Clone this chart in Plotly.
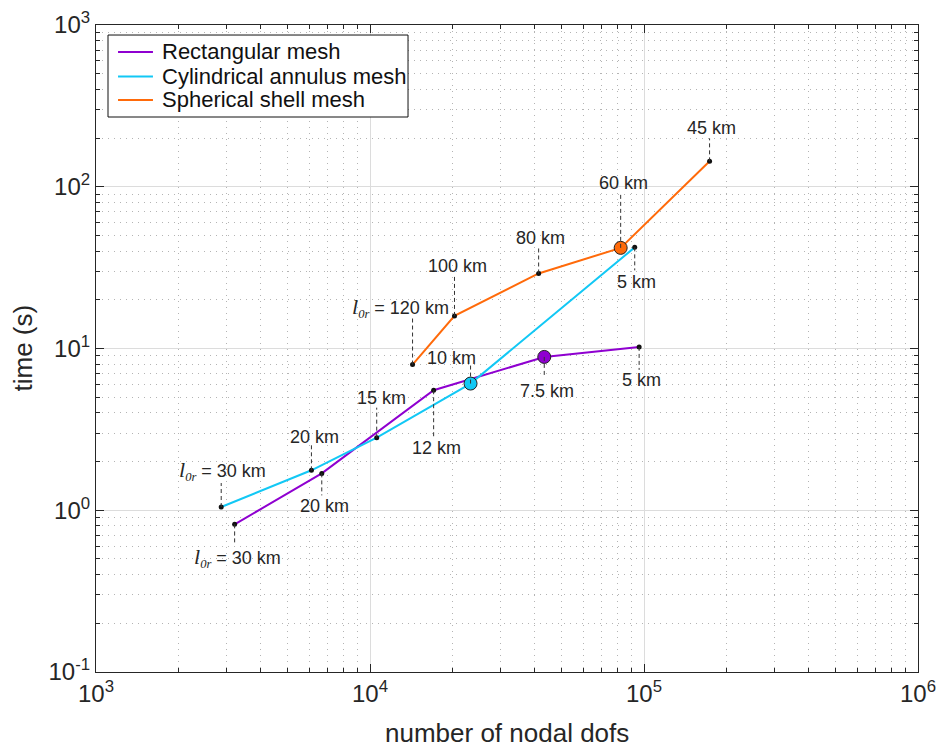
import numpy as np
import plotly.graph_objects as go

# ---- data: mesh size sweeps (number of nodal dofs vs. run time) ----
rect_dofs = [3206, 6668, 17070, 43250, 96000]
rect_time = [0.818, 1.69, 5.52, 8.87, 10.23]
rect_lbl = ["= 30 km", "20 km", "12 km", "7.5 km", "5 km"]

cyl_dofs = [2864, 6113, 10580, 23280, 92500]
cyl_time = [1.047, 1.766, 2.81, 6.07, 42.2]
cyl_lbl = ["= 30 km", "20 km", "15 km", "10 km", "5 km"]

sph_dofs = [14300, 20340, 41250, 82200, 173500]
sph_time = [7.96, 15.9, 29.1, 41.9, 143.6]
sph_lbl = ["= 120 km", "100 km", "80 km", "60 km", "45 km"]

series_names = ["Rectangular mesh", "Cylindrical annulus mesh", "Spherical shell mesh"]

# index of the highlighted run in each series
rect_hi, cyl_hi, sph_hi = 3, 3, 3

x_ticks = [1e3, 1e4, 1e5, 1e6]
x_ticktext = ["10<sup>3</sup>", "10<sup>4</sup>", "10<sup>5</sup>", "10<sup>6</sup>"]
y_ticks = [1e-1, 1e0, 1e1, 1e2, 1e3]
y_ticktext = ["10<sup>-1</sup>", "10<sup>0</sup>", "10<sup>1</sup>", "10<sup>2</sup>", "10<sup>3</sup>"]

# ---- label placement (pixel offsets): leader length, text offset, x shift ----
rect_place = [(-21, -33, 3), (-22, -33, 3), (-48, -58, 3), (-21, -34, 3), (-23, -33, 2)]
cyl_place = [(24, 37, 1), (25, 33, 3), (30, 40, 5), (18, 26, -19), (-23, -35, 2)]
sph_place = [(47, 57, -12), (41, 50, 3), (25, 35, 2), (53, 65, 3), (23, 33, 2)]

C_RECT = "#8F00D0"
C_CYL = "#12C8F5"
C_SPH = "#FF6A0A"
FONT = "Liberation Sans, Arial, sans-serif"
INK = "#262626"

W, H = 938, 748
M_L, M_R, M_T, M_B = 96, 20, 25, 76
PLOT_W = W - M_L - M_R
PLOT_H = H - M_T - M_B
Y_DECADES = 4
PX_PER_DECADE_Y = PLOT_H / Y_DECADES

# symbol for the radial reference length, written as italic l with subscript 0r
L0R = ("<span style='font-family:Liberation Serif'><i><span style='font-size:22px'>l</span>"
       "<sub>0r</sub></i></span> ")

fig = go.Figure()

series = [
    (series_names[0], rect_dofs, rect_time, rect_lbl, rect_hi, rect_place, C_RECT),
    (series_names[1], cyl_dofs, cyl_time, cyl_lbl, cyl_hi, cyl_place, C_CYL),
    (series_names[2], sph_dofs, sph_time, sph_lbl, sph_hi, sph_place, C_SPH),
]

shapes = []
annotations = []
for name, xs, ys, lbls, hi, place, col in series:
    for i, (xv, yv, txt, (ln, off, dx)) in enumerate(zip(xs, ys, lbls, place)):
        # dashed leader from the point towards its label (length given in pixels)
        shapes.append(dict(
            type="line", xref="x", yref="y", layer="above",
            x0=xv, x1=xv, y0=yv, y1=yv * 10 ** (ln / PX_PER_DECADE_Y),
            line=dict(color="#333333", width=1, dash="4px,3px"),
        ))
        annotations.append(dict(
            x=np.log10(xv), y=np.log10(yv), xref="x", yref="y",
            text=(L0R + txt) if i == 0 else txt,
            showarrow=False, xshift=dx, yshift=off,
            font=dict(family=FONT, size=18, color=INK),
            xanchor="center", yanchor="middle",
        ))

for name, xs, ys, lbls, hi, place, col in series:
    fig.add_trace(go.Scatter(
        x=xs, y=ys, mode="lines", name=name, showlegend=False,
        line=dict(color=col, width=2),
    ))

for name, xs, ys, lbls, hi, place, col in series:
    sx = [v for i, v in enumerate(xs) if i != hi]
    sy = [v for i, v in enumerate(ys) if i != hi]
    fig.add_trace(go.Scatter(
        x=sx, y=sy, mode="markers", showlegend=False,
        marker=dict(color="#111111", size=5),
    ))
    fig.add_trace(go.Scatter(
        x=[xs[hi]], y=[ys[hi]], mode="markers", showlegend=False,
        marker=dict(color=col, size=13, line=dict(color="#222222", width=1)),
    ))

# legend box in the upper-left corner of the axes (paper coordinates)
leg_box = dict(x0=0.0146, x1=0.3796, y0=0.8578, y1=0.9845)
leg_rows = [0.9583, 0.9204, 0.8841]
shapes.append(dict(type="rect", xref="paper", yref="paper", layer="above",
                   fillcolor="white", line=dict(color="#111111", width=1), **leg_box))
for (name, xs, ys, lbls, hi, place, col), yr in zip(series, leg_rows):
    shapes.append(dict(type="line", xref="paper", yref="paper", layer="above",
                       x0=0.0268, x1=0.0693, y0=yr, y1=yr,
                       line=dict(color=col, width=2)))
    annotations.append(dict(x=0.0779, y=yr, xref="paper", yref="paper",
                            text=name, showarrow=False, xanchor="left", yanchor="middle",
                            font=dict(family=FONT, size=22, color="#111111")))

# axis titles
annotations.append(dict(x=0.5, y=-(733 - (H - M_B)) / PLOT_H, xref="paper", yref="paper",
                        text="number of nodal dofs", showarrow=False,
                        xanchor="center", yanchor="middle",
                        font=dict(family=FONT, size=26, color=INK)))
annotations.append(dict(x=-(M_L - 22) / PLOT_W, y=0.5, xref="paper", yref="paper",
                        text="time (s)", showarrow=False, textangle=-90,
                        xanchor="center", yanchor="middle",
                        font=dict(family=FONT, size=26, color=INK)))

minor_x = [m * 10 ** e for e in range(3, 6) for m in range(2, 10)]
minor_y = [m * 10 ** e for e in range(-1, 3) for m in range(2, 10)]

axis_common = dict(
    type="log", showline=True, linecolor=INK, linewidth=1.2, mirror="ticks",
    ticks="inside", ticklen=8, tickwidth=1.2, tickcolor=INK,
    showgrid=True, gridcolor="#dcdcdc", gridwidth=1, zeroline=False,
    tickfont=dict(family=FONT, size=24, color=INK), ticklabeloverflow="allow",
    automargin=False,
)
minor_common = dict(tickmode="array", ticks="inside", ticklen=4, tickcolor=INK,
                    showgrid=True, gridcolor="#b4b4b4", griddash="1px,5px", gridwidth=1)

fig.update_xaxes(
    **axis_common, range=[3, 6], tickmode="array", tickvals=x_ticks, ticktext=x_ticktext,
    minor=dict(tickvals=minor_x, **minor_common),
)
fig.update_yaxes(
    **axis_common, range=[-1, 3], tickmode="array", tickvals=y_ticks, ticktext=y_ticktext,
    minor=dict(tickvals=minor_y, **minor_common),
)

fig.update_layout(
    width=W, height=H,
    margin=dict(l=M_L, r=M_R, t=M_T, b=M_B),
    paper_bgcolor="white", plot_bgcolor="white",
    shapes=shapes, annotations=annotations,
    font=dict(family=FONT, color=INK),
    showlegend=False,
)

fig.write_html("out.html")
